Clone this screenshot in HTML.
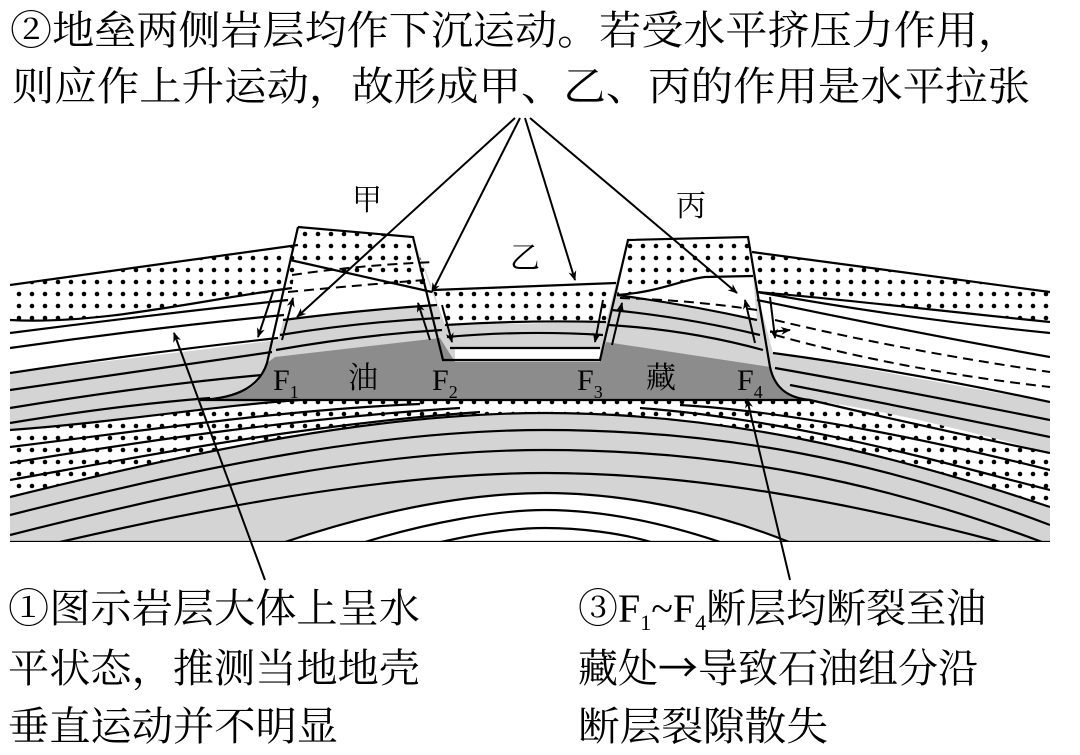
<!DOCTYPE html>
<html><head><meta charset="utf-8"><style>html,body{margin:0;padding:0;background:#fff}svg{display:block}</style></head>
<body>
<svg width="1080" height="755" viewBox="0 0 1080 755" xmlns="http://www.w3.org/2000/svg" font-family="'Liberation Serif','Noto Serif CJK SC',serif">
<defs>
<pattern id="dots" width="13" height="12" patternUnits="userSpaceOnUse">
<rect width="13" height="12" fill="#fff"/><circle cx="6" cy="6" r="2.3" fill="#000"/></pattern>
<marker id="ah" markerWidth="10" markerHeight="10" refX="9" refY="5" orient="auto" markerUnits="userSpaceOnUse"><path d="M0,1 L10,5 L0,9 L3,5 Z" fill="#000"/></marker>
<clipPath id="cl"><rect x="10" y="200" width="1040" height="342"/></clipPath>
</defs>

<!-- base -->
<path d="M10,285 L298,245 L298,227 L413,237 L433,290 L616,283 L628,240 L748,237 L752,252 L1050,292 L1050,542 L10,542 Z" fill="#d4d4d4"/>

<!-- white regions -->
<path d="M10,318 C100,315 200,300 292,288 L278,340 C200,350 100,362 10,373 Z" fill="#fff"/>
<path d="M290,260 L432,292 L437,305 C380,308 330,313 283,320 Z" fill="#fff"/>
<path d="M455,348 L600,348 L600,360 L455,360 Z" fill="#fff"/>
<path d="M617,295 C660,292 680,280 705,277 L753,276 L757,320 C720,312 660,300 617,295 Z" fill="#fff"/>
<path d="M757,292 C850,300 950,312 1050,322 L1050,402 C950,385 850,365 773,353 Z" fill="#fff"/>
<!-- bottom white arch -->
<path d="M285,542 C380,510 470,493 545,493 C620,493 710,510 789,542 Z" fill="#fff"/>

<!-- dotted regions -->
<path d="M10,285 L298,245 L292,290 C200,300 100,325 10,320 Z" fill="url(#dots)"/>
<path d="M298,227 L413,237 L432,292 L290,260 Z" fill="url(#dots)"/>
<path d="M433,290 L616,283 L606,322 L445,325 Z" fill="url(#dots)"/>
<path d="M628,240 L748,237 L753,276 L705,277 C680,280 660,292 617,295 Z" fill="url(#dots)"/>
<path d="M752,252 L1050,292 L1050,322 C950,312 850,300 757,292 Z" fill="url(#dots)"/>
<path d="M10,430 C120,422 220,405 300,400 L810,400 C900,412 1000,440 1050,453 L1050,507 C880,450 720,413 545,413 C380,413 200,450 10,497 Z" fill="url(#dots)"/>

<!-- oil -->
<path d="M200,400 C245,398 262,385 267,363 L275,357 L440,338 L455,362 L600,362 L606,342 L770,367 C775,390 790,398 810,400 Z" fill="#8c8c8c"/>

<g fill="none" stroke="#000" stroke-width="2.2" clip-path="url(#cl)">
<!-- outlines top -->
<path d="M10,285 L298,245"/>
<path d="M298,227 L413,237 L443,360 L600,360 L628,240 L748,237 L770,367 C775,390 790,398 810,400"/>
<path d="M298,227 L267,363 C260,385 240,398 200,400 L810,400"/>
<path d="M433,290 L616,283"/>
<path d="M752,252 L1050,292"/>
<path d="M290,260 L432,292"/>
<path d="M617,295 C660,292 680,280 705,277 L753,276"/>
<path d="M10,320 C100,325 200,300 292,288"/>
<path d="M757,292 C850,300 950,312 1050,322"/>
<!-- left lines -->
<path d="M10,333 Q150,315 288,300"/>
<path d="M10,348 Q150,328 284,315"/>
<path d="M10,373 Q150,352 278,338"/>
<path d="M10,390 Q150,370 272,352"/>
<path d="M10,408 Q150,385 262,375"/>
<path d="M10,423 Q120,405 210,398"/>
<!-- block 甲 inner lines -->
<path d="M283,320 Q360,310 437,305"/>
<path d="M280,335 Q360,322 440,318"/>
<path d="M276,350 Q360,335 442,330"/>
<!-- graben lines -->
<path d="M445,325 Q525,320 606,322"/>
<path d="M447,337 Q525,330 603,335"/>
<path d="M450,348 L600,348"/>
<!-- block 丙 inner -->
<path d="M617,295 Q690,305 757,320"/>
<path d="M612,310 Q690,318 760,335"/>
<path d="M609,325 Q690,330 763,350"/>
<!-- right upper lines -->
<path d="M757,292 Q900,318 1050,333"/>
<path d="M757,300 Q900,330 1050,357"/>
<path d="M773,353 Q900,370 1050,402"/>
<path d="M775,368 Q900,390 1050,420"/>
<path d="M790,385 Q920,410 1050,437"/>
<path d="M10,430 C120,422 220,405 300,400"/>
<path d="M810,400 Q930,428 1050,453"/>
<!-- lines within dotted sides -->
<path d="M10,447 C150,430 280,410 420,404"/>
<path d="M10,463 C150,440 300,418 460,408"/>
<path d="M10,480 C150,455 300,425 480,412"/>
<path d="M680,405 C800,412 950,445 1050,470"/>
<path d="M640,408 C800,420 950,465 1050,490"/>
<!-- arch lines -->
<path d="M10,497 C200,450 380,413 545,413 C720,413 880,450 1050,507"/>
<path d="M10,515 C200,467 380,430 545,430 C720,430 880,460 1050,525"/>
<path d="M10,535 C200,487 380,450 545,450 C720,450 880,480 1050,545"/>
<path d="M60,542 C220,505 400,473 545,473 C700,473 860,505 1000,542"/>
<path d="M285,542 C380,510 470,493 545,493 C620,493 710,510 789,542"/>
<path d="M365,542 C430,522 500,510 545,510 C600,510 660,522 720,542"/>
<path d="M441,542 C480,533 515,528 545,528 C580,528 620,533 651,542"/>
<path d="M10,542 L1050,542"/>
</g>
<!-- dashed -->
<g fill="none" stroke="#000" stroke-width="2" stroke-dasharray="10,6">
<path d="M292,275 Q360,265 435,262"/>
<path d="M288,292 Q360,285 425,280"/>
<path d="M620,298 Q690,300 757,310"/>
<path d="M775,320 Q900,350 1050,372"/>
<path d="M775,335 Q900,370 1050,387"/>
</g>

<!-- arrows -->
<g stroke="#000" stroke-width="2" fill="none" marker-end="url(#ah)">
<line x1="515" y1="118" x2="297" y2="317"/>
<line x1="520" y1="118" x2="432" y2="292"/>
<line x1="525" y1="118" x2="575" y2="280"/>
<line x1="530" y1="118" x2="737" y2="293"/>
<line x1="265" y1="580" x2="174" y2="333"/>
<line x1="790" y1="580" x2="747" y2="399"/>
<line x1="273" y1="292" x2="258" y2="337"/>
<line x1="282" y1="340" x2="293" y2="298"/>
<line x1="430" y1="340" x2="418" y2="303"/>
<line x1="442" y1="305" x2="452" y2="342"/>
<line x1="603" y1="300" x2="595" y2="342"/>
<line x1="612" y1="345" x2="622" y2="303"/>
<line x1="755" y1="343" x2="745" y2="300"/>
<line x1="770" y1="297" x2="775" y2="338"/>
<line x1="770" y1="332" x2="790" y2="330"/>
</g>

<!-- labels -->
<g font-size="30" fill="#000">
<text x="352" y="210">甲</text>
<text x="676" y="216">丙</text>
<text x="510" y="268">乙</text>
<text x="273" y="390">F<tspan font-size="18" dy="8">1</tspan></text>
<text x="348" y="388">油</text>
<text x="432" y="390">F<tspan font-size="18" dy="8">2</tspan></text>
<text x="577" y="390">F<tspan font-size="18" dy="8">3</tspan></text>
<text x="646" y="388">藏</text>
<text x="737" y="390">F<tspan font-size="18" dy="8">4</tspan></text>
</g>

<g font-size="40" fill="#000">
<text x="10" y="44" textLength="1010" lengthAdjust="spacingAndGlyphs">②地垒两侧岩层均作下沉运动。若受水平挤压力作用，</text>
<text x="12" y="100" textLength="1018" lengthAdjust="spacingAndGlyphs">则应作上升运动，故形成甲、乙、丙的作用是水平拉张</text>
<text x="8" y="622" textLength="412" lengthAdjust="spacingAndGlyphs">①图示岩层大体上呈水</text>
<text x="8" y="682" textLength="412" lengthAdjust="spacingAndGlyphs">平状态，推测当地地壳</text>
<text x="8" y="740" textLength="330" lengthAdjust="spacingAndGlyphs">垂直运动并不明显</text>
<text x="578" y="622">③F<tspan font-size="22" dy="8">1</tspan><tspan dy="-8">~F</tspan><tspan font-size="22" dy="8">4</tspan><tspan dy="-8">断层均断裂至油</tspan></text>
<text x="578" y="682">藏处<tspan font-family="'Noto Sans CJK SC',sans-serif">→</tspan>导致石油组分沿</text>
<text x="578" y="740" textLength="250" lengthAdjust="spacingAndGlyphs">断层裂隙散失</text>
</g>
</svg>
</body></html>
